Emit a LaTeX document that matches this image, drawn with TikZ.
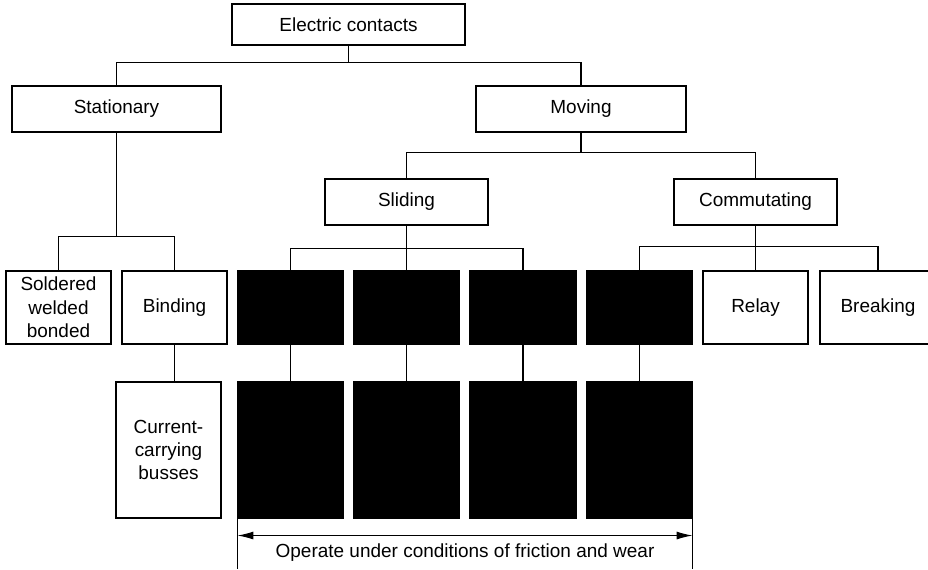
\documentclass[tikz,border=0pt]{standalone}
\usepackage{fontspec}
\setmainfont{Liberation Sans}
\usetikzlibrary{calc,arrows.meta}
\tikzset{
	box/.style 2 args={draw, line width=0.6pt, align=center, inner sep=0pt,
		minimum width=#1*0.2mm, minimum height=#2*0.2mm},
	blk/.style 2 args={box={#1}{#2}, fill=black},
	link/.style={line width=0.6pt},
	tip/.tip={Latex[length=3.2mm,width=1.6mm]},
}

\begin{document}
\begin{tikzpicture}[x=0.2mm, y=-0.2mm, font=\fontsize{10.8}{13.3}\selectfont]
		\useasboundingbox (0,0) rectangle (928,570);

		%% upper levels
		\node[box={233}{41}] at (348.5,24.5)(ec){Electric contacts};

		\node[box={209}{46}] at (116.5,109)(stat){Stationary};
		\node[box={210}{46}] at (581,109)(mov){Moving};

		\node[box={163}{46}] at (406.5,202)(slid){Sliding};
		\node[box={163}{46}] at (755.5,202)(comm){Commutating};

		%% third row
		\node[box={105}{73}] at (58.5,307.5)(sold){Soldered\\welded\\bonded};
		\node[box={105}{73}] at (174.5,307.5)(bind){Binding};
		\node[blk={105}{73}] at (290.5,307.5)(s1){};
		\node[blk={105}{73}] at (406.5,307.5)(s2){};
		\node[blk={106}{73}] at (523,307.5)(s3){};
		\node[blk={105}{73}] at (639.5,307.5)(s4){};
		\node[box={105}{73}] at (755.5,307.5)(relay){Relay};
		\node[box={116}{73}] at (878,307.5)(brk){Breaking};

		%% fourth row
		\node[box={105}{136}] at (168.5,450)(cur){Current-\\carrying\\busses};
		\node[blk={105}{136}] at (290.5,450)(t1){};
		\node[blk={105}{136}] at (406.5,450)(t2){};
		\node[blk={106}{136}] at (523,450)(t3){};
		\node[blk={105}{136}] at (639.5,450)(t4){};

		%% tree lines
		\draw[link] (ec.south)--++(0,17)coordinate(j0);
		\draw[link] (stat.north)|-(j0)-|(mov.north);

		\draw[link] (stat.south)--++(0,104)coordinate(j1);
		\draw[link] (sold.north)|-(j1)-|(bind.north);
		\draw[link] (bind.south)--(bind.south|-cur.north);

		\draw[link] (mov.south)--++(0,20)coordinate(j2);
		\draw[link] (slid.north)|-(j2)-|(comm.north);

		\draw[link] (slid.south)--(s2.north);
		\draw[link] (s1.north)|-($(slid.south)+(0,23)$)-|(s3.north);

		\draw[link] (comm.south)--(relay.north);
		\draw[link] (s4.north)|-($(comm.south)+(0,21)$)-|(brk.north);

		\foreach \i in {1,...,4}
			\draw[link] (s\i.south)--(t\i.north);

		%% friction and wear
		\draw[link] (t1.south west)--++(0,50)coordinate(e1);
		\draw[link] (t4.south east)--++(0,50)coordinate(e4);
		\draw[link, tip-tip] ($(t1.south west)!0.34!(e1)$)--($(t4.south east)!0.34!(e4)$);
		\node at (465,553)(op){Operate under conditions of friction and wear};
\end{tikzpicture}
\end{document}
